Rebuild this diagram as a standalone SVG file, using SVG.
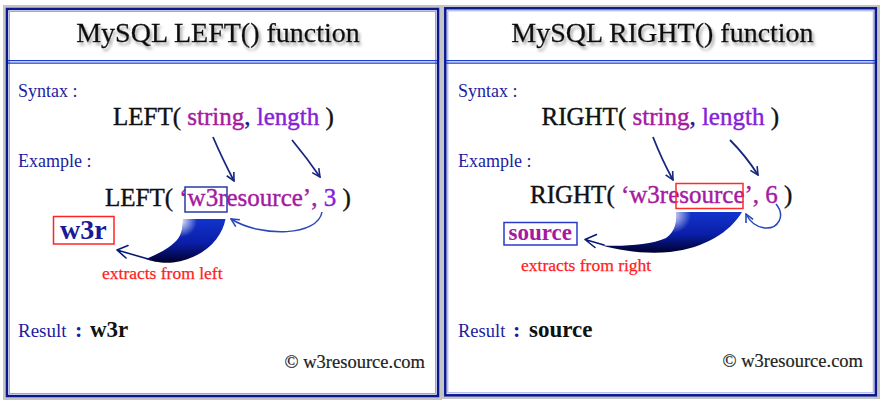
<svg xmlns="http://www.w3.org/2000/svg" width="885" height="408" viewBox="0 0 885 408">
<style>
text{font-family:"Liberation Serif","Times New Roman",serif}
.frame-gray{fill:#c4c4c4}
.frame{fill:#fff;stroke:#0a1890;stroke-width:2.5}
.halo{fill:none;stroke:#9aa6e6;stroke-width:1}
.sep{stroke:#1a3ccc;stroke-width:1.2}
.title{font-size:28px;fill:#111;text-anchor:middle;stroke:#111;stroke-width:0.3}
.lbl{font-size:18px;fill:#1c1ca2}
.code{font-size:25px;fill:#111;stroke:#111;stroke-width:0.4}
.mag{fill:#a51a9f;stroke:#a51a9f}
.vio{fill:#8522d8;stroke:#8522d8}
.dk{fill:#1a1a80;stroke:#1a1a80}
.red{font-size:17.5px;fill:#ff1c1c;stroke:#ff1c1c;stroke-width:0.25}
.colon{font-size:22px;fill:#1c1ca2;font-weight:bold}
.val{font-size:23px;fill:#111;font-weight:bold}
.copy{font-size:18.5px;fill:#222;text-anchor:end;stroke:#222;stroke-width:0.2}
.arr{fill:none;stroke:#18287e;stroke-width:1.8}
.ret{fill:none;stroke:#2a48bc;stroke-width:1.5}
.head{fill:none;stroke-linecap:round;stroke-linejoin:round}
</style>
<defs>
<filter id="tshadow" x="-10%" y="-30%" width="120%" height="170%">
<feGaussianBlur in="SourceAlpha" stdDeviation="1.6"/>
<feOffset dx="2" dy="3" result="b"/>
<feFlood flood-color="#777" flood-opacity="0.65"/>
<feComposite in2="b" operator="in"/>
<feMerge><feMergeNode/><feMergeNode in="SourceGraphic"/></feMerge>
</filter>
<linearGradient id="swV" x1="0" y1="0" x2="0" y2="1">
<stop offset="0" stop-color="#1234cc"/>
<stop offset="0.55" stop-color="#0a1ea8"/>
<stop offset="1" stop-color="#00002a"/>
</linearGradient>
<radialGradient id="hlL" gradientUnits="userSpaceOnUse" cx="181" cy="221" r="16">
<stop offset="0" stop-color="#fff" stop-opacity="0.9"/>
<stop offset="1" stop-color="#fff" stop-opacity="0"/>
</radialGradient>
<radialGradient id="hlR" gradientUnits="userSpaceOnUse" cx="673" cy="215" r="18">
<stop offset="0" stop-color="#fff" stop-opacity="0.85"/>
<stop offset="1" stop-color="#fff" stop-opacity="0"/>
</radialGradient>
<marker id="vhead" viewBox="0 0 10 10" refX="9" refY="5" markerWidth="10" markerHeight="10" markerUnits="userSpaceOnUse" orient="auto">
<path d="M1,1 L9,5 L1,9" fill="none" stroke="context-stroke" stroke-width="1.6"/>
</marker>
</defs>

<g id="left-panel">
<rect class="frame-gray" x="3" y="5" width="439" height="395"/>
<rect class="frame" x="7" y="9" width="431" height="387"/>
<rect class="halo" x="9.5" y="11.5" width="426" height="382"/>
<line class="sep" x1="8" y1="60.6" x2="437" y2="60.6"/>
<line class="sep" x1="8" y1="63.2" x2="437" y2="63.2"/>
</g>
<g id="right-panel">
<rect class="frame-gray" x="442" y="5" width="438" height="394"/>
<rect class="frame" x="445.3" y="8.3" width="430.5" height="387"/>
<rect class="halo" x="447.8" y="10.8" width="425.5" height="382"/>
<line class="sep" x1="446" y1="60.6" x2="875" y2="60.6"/>
<line class="sep" x1="446" y1="63.2" x2="875" y2="63.2"/>
</g>

<g id="left-title"><text class="title" x="218" y="42" filter="url(#tshadow)">MySQL LEFT() function</text></g>
<g id="right-title"><text class="title" x="662.5" y="42" filter="url(#tshadow)">MySQL RIGHT() function</text></g>

<g id="left-syntax">
<text class="lbl" x="18" y="97">Syntax :</text>
<text class="code" x="113" y="125">LEFT( <tspan class="mag">string</tspan><tspan class="dk">,</tspan> <tspan class="vio">length</tspan> )</text>
</g>
<g id="right-syntax">
<text class="lbl" x="458" y="97">Syntax :</text>
<text class="code" x="541.5" y="125">RIGHT( <tspan class="mag">string</tspan><tspan class="dk">,</tspan> <tspan class="vio">length</tspan> )</text>
</g>

<g id="left-example">
<text class="lbl" x="18" y="167">Example :</text>
<text class="code" x="105" y="206">LEFT( <tspan class="mag">‘w3resource’,</tspan> <tspan class="vio">3</tspan> )</text>
<rect x="185" y="187" width="42" height="25" fill="none" stroke="#2a3aa8" stroke-width="1.5"/>
</g>
<g id="right-example">
<text class="lbl" x="458" y="167">Example :</text>
<text class="code" x="530" y="203">RIGHT( <tspan class="mag">‘w3resource’, 6</tspan> )</text>
<rect x="676" y="183.5" width="67" height="25" fill="none" stroke="#ff2a2a" stroke-width="1.5"/>
</g>

<g id="left-extract">
<rect x="53.5" y="216.5" width="60.5" height="27.5" fill="#fff" stroke="#ff2424" stroke-width="1.5"/>
<text x="60" y="238.5" font-weight="bold" fill="#1a1a96" style="font-size:28px">w3r</text>
<text class="red" x="102" y="279">extracts from left</text>
</g>
<g id="right-extract">
<rect x="504" y="222.5" width="73" height="22.5" fill="#fff" stroke="#2a3ac8" stroke-width="1.5"/>
<text x="508.5" y="239.5" font-weight="bold" fill="#a51a9f" style="font-size:23px">source</text>
<text class="red" x="521" y="271">extracts from right</text>
</g>

<g id="left-result">
<text class="lbl" x="18" y="337" style="font-size:19px">Result</text>
<text class="colon" x="75" y="337">:</text>
<text class="val" x="90" y="337">w3r</text>
<text class="copy" x="425" y="368">© w3resource.com</text>
</g>
<g id="right-result">
<text class="lbl" x="458" y="337" style="font-size:18.5px">Result</text>
<text class="colon" x="513" y="337">:</text>
<text class="val" x="529" y="337">source</text>
<text class="copy" x="863" y="367">© w3resource.com</text>
</g>

<g id="connectors">
<path class="arr" d="M213,137 Q222,158 234,181" marker-end="url(#vhead)"/>
<path class="arr" d="M292,140 Q307,158 320,177" marker-end="url(#vhead)"/>
<path class="arr" d="M653,137 Q662,160 673,180" marker-end="url(#vhead)"/>
<path class="arr" d="M730,140 Q746,156 758,175" marker-end="url(#vhead)"/>
<path class="ret" d="M322,212 C318,236 262,238 231,219" marker-end="url(#vhead)"/>
<path class="ret" d="M776,204 C786,216 778,229 765,228 C756,227 750,222 746,214" marker-end="url(#vhead)"/>

<path d="M183,219 L225.5,219 C222,238 205,258 173,262.5 C162,263.5 152,261.5 146,259 C158,254 170,248 177,240 C182,234 183,226 183,219 Z" fill="url(#swV)"/>
<path d="M183,219 L225.5,219 C222,238 205,258 173,262.5 C162,263.5 152,261.5 146,259 C158,254 170,248 177,240 C182,234 183,226 183,219 Z" fill="url(#hlL)"/>
<path class="head" d="M150,259.5 Q134,255 117,250 M128,245.5 L117,250 L126,258" stroke="#0a1878" stroke-width="1.6"/>

<path d="M676.5,212 L742,212 C730,232 705,248 670,252 C645,254.5 620,250.5 602,245.5 C625,246.5 650,245 666,238 C675,232 677,222 676.5,212 Z" fill="url(#swV)"/>
<path d="M676.5,212 L742,212 C730,232 705,248 670,252 C645,254.5 620,250.5 602,245.5 C625,246.5 650,245 666,238 C675,232 677,222 676.5,212 Z" fill="url(#hlR)"/>
<path class="head" d="M604,245 L585,239.5 M596.5,234.5 L585,239.5 L595,247.5" stroke="#0a1878" stroke-width="1.6"/>
</g>
</svg>
